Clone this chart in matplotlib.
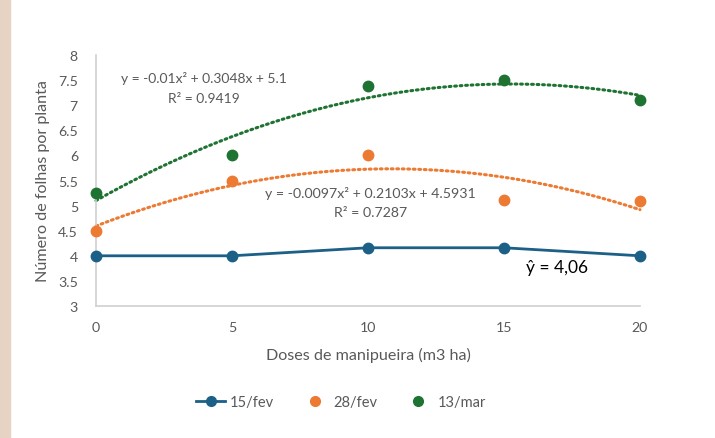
import numpy as np
import matplotlib.pyplot as plt
from matplotlib.lines import Line2D
from matplotlib.patches import Rectangle

plt.rcParams['font.family'] = ['Lato', 'DejaVu Sans']

doses = [0, 5, 10, 15, 20]
fev15 = [4.0, 4.0, 4.16, 4.16, 4.0]
fev28 = [4.5, 5.5, 6.0, 5.12, 5.1]
mar13 = [5.25, 6.0, 7.38, 7.5, 7.1]

# trendline coefficients as printed on the chart (a, b, c)
coef_fev28 = [-0.0097, 0.2103, 4.5931]
coef_mar13 = [-0.01, 0.3048, 5.1]

blue = '#1c5f87'
orange = '#ec7a33'
green = '#1f7332'
gray = '#595959'

fig = plt.figure(figsize=(7.15, 4.39), dpi=100)
fig.patches.append(Rectangle((0, 0), 10 / 715, 1, transform=fig.transFigure,
                             color='#e6d3c4', zorder=0))
ax = fig.add_axes([96 / 715, 1 - 307 / 439, 544 / 715, 251 / 439])

xs = np.linspace(0, 20, 200)
ax.plot(xs, np.polyval(coef_mar13, xs), color=green, lw=2.2, ls=(0, (0.6, 1.2)),
        dash_capstyle='round', clip_on=False)
ax.plot(xs, np.polyval(coef_fev28, xs), color=orange, lw=2.2, ls=(0, (0.6, 1.2)),
        dash_capstyle='round', clip_on=False)

ax.plot(doses, fev15, color=blue, lw=2, marker='o', ms=7.5, clip_on=False, zorder=4)
ax.plot(doses, fev28, ls='none', color=orange, marker='o', ms=7.5, clip_on=False, zorder=4)
ax.plot(doses, mar13, ls='none', color=green, marker='o', ms=7.5, clip_on=False, zorder=4)

ax.set_xlim(0, 20)
ax.set_ylim(3, 8)
ax.set_xticks(doses)
ax.set_yticks(np.arange(3, 8.01, 0.5))
ax.set_yticklabels(['3', '3.5', '4', '4.5', '5', '5.5', '6', '6.5', '7', '7.5', '8'])
ax.tick_params(length=0, labelsize=10.2, labelcolor=gray)
ax.tick_params(axis='x', pad=11)
ax.tick_params(axis='y', pad=13)
for s in ['top', 'right']:
    ax.spines[s].set_visible(False)
for s in ['left', 'bottom']:
    ax.spines[s].set_color('#d0d0d0')
    ax.spines[s].set_linewidth(1.2)

ax.set_xlabel('Doses de manipueira (m3 ha)', fontsize=11.6, color=gray, labelpad=10)
ax.set_ylabel('Número de folhas por planta', fontsize=11.6, color=gray, labelpad=6)

ax.text(3.95, 7.55, 'y = -0.01x² + 0.3048x + 5.1', fontsize=10, color=gray,
        ha='center', va='center')
ax.text(3.95, 7.15, 'R² = 0.9419', fontsize=10, color=gray, ha='center', va='center')
ax.text(10.1, 5.27, 'y = -0.0097x² + 0.2103x + 4.5931', fontsize=10.2, color=gray,
        ha='center', va='center')
ax.text(10.1, 4.87, 'R² = 0.7287', fontsize=10.2, color=gray, ha='center', va='center')
ax.text(16.95, 3.78, 'ŷ = 4,06', fontsize=12.5, color='black', ha='center', va='center')

handles = [
    Line2D([], [], color=blue, lw=2, marker='o', ms=7),
    Line2D([], [], ls='none', color=orange, marker='o', ms=7),
    Line2D([], [], ls='none', color=green, marker='o', ms=7),
]
fig.legend(handles, ['15/fev', '28/fev', '13/mar'], loc='center',
           bbox_to_anchor=(341 / 715, 1 - 403 / 439), ncol=3, frameon=False,
           fontsize=10.5, labelcolor=gray, handlelength=2.0, columnspacing=1.8,
           handletextpad=0.3)

fig.savefig('out.png', dpi=100)
